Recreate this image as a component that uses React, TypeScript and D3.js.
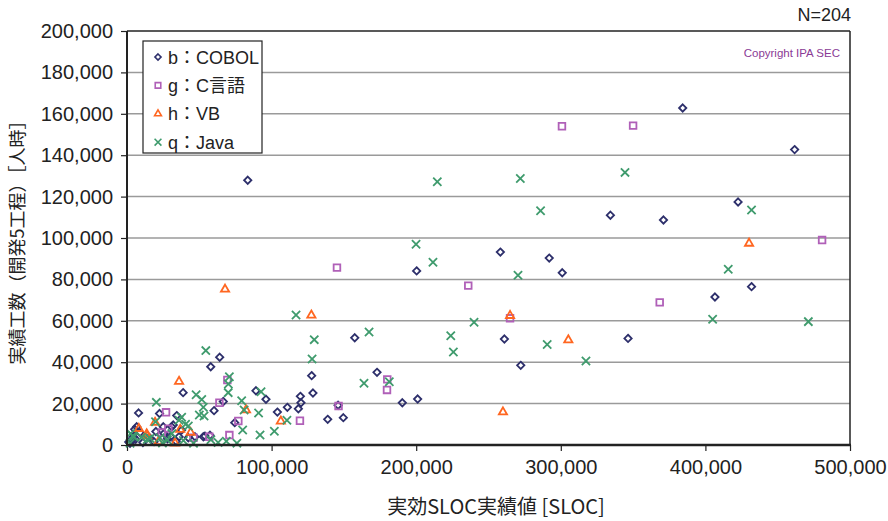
import React, { useEffect, useRef } from "react";
import * as d3 from "d3";

// [実効SLOC, 実績工数(人時)]
const cobolPoints: [number, number][] = [
  [384300, 162800], [461700, 142700], [422600, 117400], [334300, 111000], [371000, 108700],
  [83500, 127900], [258200, 93200], [292000, 90300], [200300, 84100], [301000, 83200],
  [431900, 76500], [406600, 71500], [346500, 51500], [261000, 51200], [272300, 38500],
  [157500, 51800], [172900, 35100], [190400, 20400], [201000, 22200], [127700, 33500],
  [128600, 25100], [119900, 23500], [120300, 20400], [118500, 17500], [110900, 18200],
  [104000, 15900], [146000, 19200], [138800, 12400], [149600, 13200], [89200, 26200],
  [96100, 22100], [66600, 21000], [60200, 16600], [64100, 42400], [57900, 37800],
  [38800, 25300], [8000, 15500], [22500, 15200], [34400, 14200], [74500, 10800],
  [5300, 7600], [25100, 8800], [30900, 8800], [32000, 9700], [6700, 8800],
  [37800, 7200], [36000, 4000], [53900, 4300], [57400, 4700], [15400, 3700],
  [42400, 3500], [4400, 4000], [2100, 800], [3700, 2400], [25600, 5600],
  [30200, 4000], [18700, 1600], [47000, 4000], [52800, 4000], [11000, 1200],
  [9000, 6000], [28000, 3000], [34000, 1800], [1200, 1500], [6000, 2800], [20000, 6500],
];

const cPoints: [number, number][] = [
  [300800, 154000], [350000, 154300], [480700, 99000], [145200, 85700], [236000, 77000],
  [368400, 68900], [264900, 61200], [69400, 31400], [180000, 31700], [179800, 26600],
  [146300, 18800], [119600, 11700], [63900, 20400], [27000, 15800], [77000, 11600],
  [70800, 4800], [56900, 4000], [46000, 3500], [28600, 7900], [24000, 6000],
];

const vbPoints: [number, number][] = [
  [430200, 97400], [67800, 75200], [127500, 62700], [264900, 62500], [305200, 50700],
  [260000, 15900], [36000, 30700], [82300, 16900], [106400, 11500], [8200, 7900],
  [14000, 4300], [19400, 10900], [36800, 7500], [44000, 6000], [33200, 900],
  [21700, 1600], [13600, 5300],
];

const javaPoints: [number, number][] = [
  [214600, 127200], [272000, 128700], [344400, 131700], [286000, 113200], [431900, 113500],
  [199900, 97000], [211600, 88300], [270400, 82000], [415800, 84900], [240000, 59300],
  [223900, 52800], [225700, 44900], [290600, 48500], [317400, 40600], [405000, 60700],
  [471200, 59600], [116900, 62800], [129500, 50900], [128000, 41500], [167400, 54600],
  [163900, 29800], [181400, 30600], [110600, 12000], [54500, 45600], [70800, 33000],
  [70100, 29500], [70000, 25300], [47800, 24300], [51700, 22000], [52800, 18200],
  [50000, 14500], [53300, 14000], [20300, 20600], [19700, 11200], [79300, 21400],
  [81000, 16900], [92700, 25700], [91000, 15500], [80000, 7200], [92000, 4800],
  [101900, 6600], [68700, 1800], [76000, 900], [46000, 800], [40500, 10000],
  [42400, 9200], [36000, 12000], [37800, 13400], [3900, 4300], [2100, 800],
  [15900, 3200], [22800, 3500], [14000, 2700], [27900, 2400], [2500, 5600],
  [4800, 4000], [31000, 5500], [10000, 3800], [24500, 1000], [39000, 2200],
  [58000, 2500], [63000, 1200],
];

const seriesNames = ["b：COBOL", "g：C言語", "h：VB", "q：Java"];
const xTicks = [0, 100000, 200000, 300000, 400000, 500000];
const yTicks = [0, 20000, 40000, 60000, 80000, 100000, 120000, 140000, 160000, 180000, 200000];

const xTitle = "実効SLOC実績値 [SLOC]";
const yTitle = "実績工数（開発5工程）［人時］";
const countLabel = "N=204";
const copyrightLabel = "Copyright IPA SEC";

const W = 888;
const H = 521;
const M = { left: 127, right: 850, top: 31, bottom: 445 };

const FONT = "'Liberation Sans', Arial, 'Noto Sans CJK JP', sans-serif";
const CJK = "'Noto Sans CJK JP', 'Liberation Sans', sans-serif";

const styles = [
  { data: cobolPoints, type: d3.symbolDiamond2, size: 34, color: "#2d2f6b", width: 1.8 },
  { data: cPoints, type: d3.symbolSquare2, size: 56, color: "#b060b8", width: 1.8 },
  { data: vbPoints, type: d3.symbolTriangle2, size: 48, color: "#ff6620", width: 1.8 },
  { data: javaPoints, type: d3.symbolX, size: 46, color: "#3f9b6d", width: 1.8 },
];

export default function App() {
  const ref = useRef<SVGSVGElement | null>(null);

  useEffect(() => {
    const svg = d3.select(ref.current);
    svg.selectAll("*").remove();

    const x = d3.scaleLinear().domain([0, 500000]).range([M.left, M.right]);
    const y = d3.scaleLinear().domain([0, 200000]).range([M.bottom, M.top]);
    const fmt = d3.format(",");

    // gridlines
    svg.append("g")
      .selectAll("line")
      .data(yTicks.filter((t) => t > 0 && t < 200000))
      .join("line")
      .attr("x1", M.left).attr("x2", M.right)
      .attr("y1", (d) => y(d)).attr("y2", (d) => y(d))
      .attr("stroke", "#9a9a9a").attr("stroke-width", 1.5);

    // y axis
    const yAxis = svg.append("g").attr("transform", `translate(${M.left},0)`)
      .call(d3.axisLeft(y).tickValues(yTicks).tickFormat((d) => fmt(d as number)).tickSize(6).tickPadding(8));
    yAxis.select(".domain").remove();
    yAxis.selectAll("line").attr("stroke", "#222").attr("stroke-width", 1.2);
    yAxis.selectAll("text").attr("font-family", FONT).attr("font-size", 20).attr("fill", "#222");

    // x axis
    const xAxis = svg.append("g").attr("transform", `translate(0,${M.bottom})`)
      .call(d3.axisBottom(x).tickValues(xTicks).tickFormat((d) => fmt(d as number)).tickSize(6).tickPadding(9));
    xAxis.select(".domain").remove();
    xAxis.selectAll("line").attr("stroke", "#222").attr("stroke-width", 1.2);
    xAxis.selectAll("text").attr("font-family", FONT).attr("font-size", 20).attr("fill", "#222");

    // plot frame
    svg.append("line").attr("x1", M.left).attr("x2", M.right).attr("y1", M.top).attr("y2", M.top)
      .attr("stroke", "#222").attr("stroke-width", 1.5);
    svg.append("line").attr("x1", M.right).attr("x2", M.right).attr("y1", M.top).attr("y2", M.bottom)
      .attr("stroke", "#222").attr("stroke-width", 1.5);

    // markers
    styles.forEach((s) => {
      const sym = d3.symbol().type(s.type).size(s.size)();
      svg.append("g")
        .selectAll("path")
        .data(s.data)
        .join("path")
        .attr("d", sym)
        .attr("transform", (d) => `translate(${x(d[0])},${y(d[1])})`)
        .attr("fill", "none")
        .attr("stroke", s.color)
        .attr("stroke-width", s.width);
    });

    // axis lines on top
    svg.append("line").attr("x1", M.left).attr("x2", M.left).attr("y1", M.top).attr("y2", M.bottom)
      .attr("stroke", "#222").attr("stroke-width", 2);
    svg.append("line").attr("x1", M.left - 1).attr("x2", M.right + 1).attr("y1", M.bottom).attr("y2", M.bottom)
      .attr("stroke", "#222").attr("stroke-width", 2.5);

    // legend
    const lg = svg.append("g");
    lg.append("rect").attr("x", 143).attr("y", 41).attr("width", 119).attr("height", 112)
      .attr("fill", "#fff").attr("stroke", "#222").attr("stroke-width", 1.2);
    styles.forEach((s, i) => {
      const cy = 57 + i * 28.4;
      lg.append("path")
        .attr("d", d3.symbol().type(s.type).size(s.size * 0.7)())
        .attr("transform", `translate(158,${cy})`)
        .attr("fill", "none").attr("stroke", s.color).attr("stroke-width", 1.6);
      lg.append("text").attr("x", 168).attr("y", cy + 6.5)
        .attr("font-family", FONT).attr("font-size", 18).attr("fill", "#222")
        .text(seriesNames[i]);
    });

    // annotations
    svg.append("text").attr("x", 851).attr("y", 21).attr("text-anchor", "end")
      .attr("font-family", FONT).attr("font-size", 18).attr("fill", "#222").text(countLabel);
    svg.append("text").attr("x", 840).attr("y", 57).attr("text-anchor", "end")
      .attr("font-family", FONT).attr("font-size", 11.5).attr("fill", "#8a3a95").text(copyrightLabel);

    // axis titles
    svg.append("text").attr("x", 496).attr("y", 514).attr("text-anchor", "middle")
      .attr("font-family", CJK).attr("font-size", 20).attr("fill", "#222").text(xTitle);
    svg.append("text").attr("transform", `translate(24,${(M.top + M.bottom) / 2}) rotate(-90)`)
      .attr("text-anchor", "middle")
      .attr("font-family", CJK).attr("font-size", 18).attr("fill", "#222").text(yTitle);
  }, []);

  return (
    <div style={{ position: "absolute", left: 0, top: 0 }}>
      <svg ref={ref} width={W} height={H} style={{ display: "block", background: "#fff" }} />
    </div>
  );
}
